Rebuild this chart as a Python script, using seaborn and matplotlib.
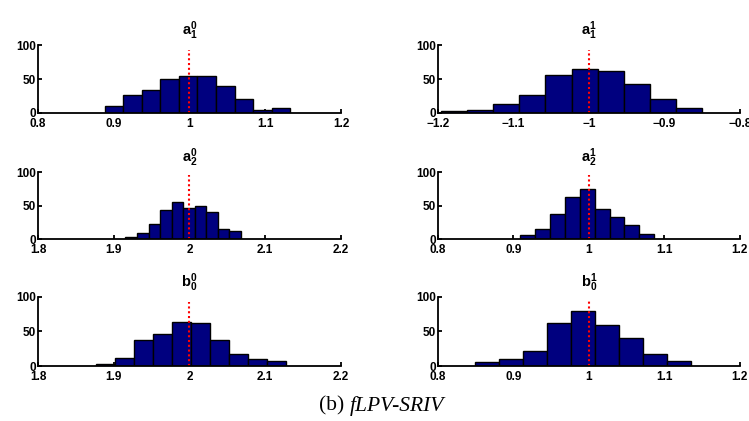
import numpy as np
import pandas as pd
import matplotlib
matplotlib.use("Agg")
import matplotlib.pyplot as plt
import seaborn as sns

# panel titles (parameter names)
titles = [r"$\mathbf{a}_1^0$", r"$\mathbf{a}_1^1$",
          r"$\mathbf{a}_2^0$", r"$\mathbf{a}_2^1$",
          r"$\mathbf{b}_0^0$", r"$\mathbf{b}_0^1$"]

# x-axis ranges and ticks
xlims = [(0.8, 1.2), (-1.2, -0.8), (1.8, 2.2), (0.8, 1.2), (1.8, 2.2), (0.8, 1.2)]
xticks = [[0.8, 0.9, 1, 1.1, 1.2], [-1.2, -1.1, -1, -0.9, -0.8],
          [1.8, 1.9, 2, 2.1, 2.2], [0.8, 0.9, 1, 1.1, 1.2],
          [1.8, 1.9, 2, 2.1, 2.2], [0.8, 0.9, 1, 1.1, 1.2]]
xticklabels = [["0.8", "0.9", "1", "1.1", "1.2"],
               ["\u22121.2", "\u22121.1", "\u22121", "\u22120.9", "\u22120.8"],
               ["1.8", "1.9", "2", "2.1", "2.2"], ["0.8", "0.9", "1", "1.1", "1.2"],
               ["1.8", "1.9", "2", "2.1", "2.2"], ["0.8", "0.9", "1", "1.1", "1.2"]]

# histogram bins: first edge, bin width, counts per bin
bin_start = [0.888, -1.1956, 1.9155, 0.9092, 1.877, 0.8486]
bin_width = [0.0245, 0.0345, 0.01525, 0.0197, 0.0251, 0.0318]
counts = [
    [10, 27, 34, 50, 54, 54, 39, 21, 4, 7],
    [3, 4, 13, 27, 56, 65, 62, 42, 21, 7],
    [3, 9, 23, 44, 56, 47, 50, 41, 15, 12],
    [6, 15, 38, 62, 74, 45, 33, 21, 8],
    [3, 12, 38, 47, 64, 62, 38, 17, 10, 7],
    [6, 10, 22, 62, 79, 59, 41, 17, 7],
]

# true parameter values (red dotted line) and line heights
true_vals = [1, -1, 2, 1, 2, 1]
line_top = [92, 93, 95, 95, 93, 94]

sns.set_theme(style="ticks")
plt.rcParams["font.family"] = ["Liberation Sans", "DejaVu Sans"]
plt.rcParams["mathtext.fontset"] = "custom"
plt.rcParams["mathtext.bf"] = "Liberation Sans:bold"
plt.rcParams["mathtext.rm"] = "Liberation Sans:bold"
plt.rcParams["mathtext.it"] = "Liberation Sans:bold"
plt.rcParams["text.color"] = "black"

fig = plt.figure(figsize=(7.49, 4.21), dpi=100)

col_left = [0.0507, 0.5848]
col_w = [0.4045, 0.403]
row_bottom = [0.7316, 0.4323, 0.1306]
row_h = [0.1615, 0.159, 0.164]

for k in range(6):
    r, c = divmod(k, 2)
    ax = fig.add_axes([col_left[c], row_bottom[r], col_w[c], row_h[r]])
    edges = bin_start[k] + bin_width[k] * np.arange(len(counts[k]) + 1)
    centers = (edges[:-1] + edges[1:]) / 2
    df = pd.DataFrame({"x": centers, "n": counts[k]})
    sns.histplot(data=df, x="x", weights="n", bins=edges.tolist(), ax=ax,
                 color="#00007f", edgecolor="black", linewidth=1.0, alpha=1)
    ax.plot([true_vals[k], true_vals[k]], [0, line_top[k]], color="red",
            linestyle=(0, (1, 1.3)), linewidth=1.5)
    ax.set_xlim(*xlims[k])
    ax.set_ylim(0, 100)
    ax.set_xticks(xticks[k])
    ax.set_xticklabels(xticklabels[k])
    ax.set_yticks([0, 50, 100])
    ax.set_yticklabels(["0", "50", "100"])
    ax.set_xlabel("")
    ax.set_ylabel("")
    for s in ["top", "right"]:
        ax.spines[s].set_visible(False)
    for s in ["left", "bottom"]:
        ax.spines[s].set_linewidth(1.3)
        ax.spines[s].set_color("black")
    ax.tick_params(direction="in", length=3, width=1.3, labelsize=8.5,
                   colors="black")
    ax.tick_params(axis="x", pad=3.5)
    ax.tick_params(axis="y", pad=1.5)
    for lab in ax.get_xticklabels() + ax.get_yticklabels():
        lab.set_fontweight("bold")
    for lab in ax.get_yticklabels():
        lab.set_verticalalignment("center_baseline")
    ax.set_title(titles[k], fontsize=10.5, pad=7, color="black")

# caption, centred as a whole
cap_a = fig.text(0, 0.035, "(b) ", ha="left", va="center", fontsize=15.5,
                 family="Liberation Serif", color="black")
cap_b = fig.text(0, 0.035, "fLPV-SRIV", ha="left", va="center", fontsize=15.5,
                 family="Liberation Serif", style="italic", color="black")
renderer = fig.canvas.get_renderer()
wa = cap_a.get_window_extent(renderer).width / fig.bbox.width
wb = cap_b.get_window_extent(renderer).width / fig.bbox.width
x0 = 0.51 - (wa + wb) / 2
cap_a.set_x(x0)
cap_b.set_x(x0 + wa)

fig.savefig("out.png", dpi=100)
